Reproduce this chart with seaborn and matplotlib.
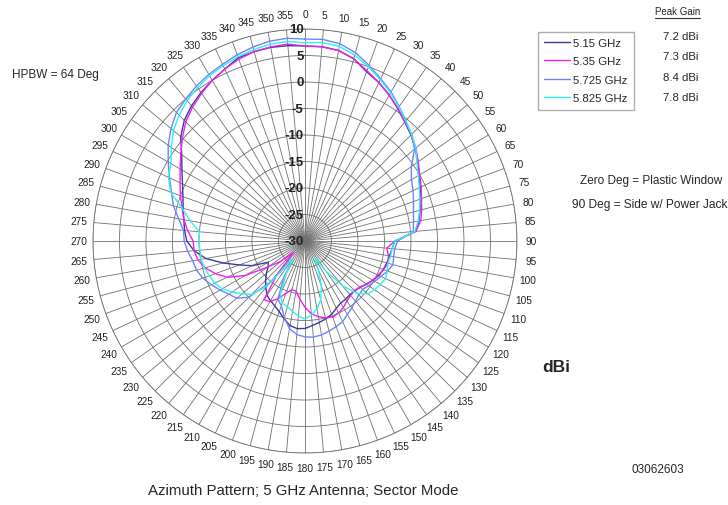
import numpy as np
import pandas as pd
import seaborn as sns
import matplotlib.pyplot as plt
from matplotlib.lines import Line2D
from matplotlib.transforms import offset_copy

# azimuth angles, 5 degree steps
angles = list(range(0, 360, 5))

gain_515 = [6.8, 6.8, 6.5, 5.6, 4.0, 3.0, 1.8, 0.5, -0.7, -1.7, -2.8, -4.0,
            -5.2, -6.0, -6.8, -7.5, -8.2, -9.0, -13.0, -13.5, -13.8, -14.0, -14.3, -14.6,
            -15.2, -15.8, -16.4, -16.7, -16.8, -16.6, -16.5, -16.0, -15.3, -14.8, -14.4, -14.0,
            -13.5, -13.4, -13.8, -14.8, -15.8, -16.5, -17.0, -17.5, -18.5, -19.5, -20.5, -21.5,
            -22.0, -19.0, -16.8, -14.0, -11.0, -9.0, -7.7, -7.2, -6.8, -6.2, -5.5, -4.5,
            -3.2, -1.6, 0.6, 2.2, 3.3, 4.2, 5.0, 5.8, 6.8, 7.0, 7.1, 7.0]

gain_535 = [6.8, 6.8, 6.5, 5.6, 4.2, 3.0, 1.8, 0.6, -0.6, -1.6, -2.7, -3.9,
            -5.0, -5.8, -6.6, -7.2, -7.8, -9.0, -13.0, -14.5, -14.0, -13.8, -14.2, -14.8,
            -15.2, -15.8, -16.5, -16.8, -16.6, -16.2, -15.5, -15.0, -14.7, -15.0, -15.5, -16.2,
            -17.5, -19.0, -20.4, -20.5, -19.5, -18.0, -16.8, -16.5, -22.0, -27.0, -24.0, -21.5,
            -17.0, -13.8, -12.0, -10.5, -9.5, -9.0, -8.9, -7.8, -6.8, -6.0, -5.0, -4.0,
            -2.8, -1.4, 0.2, 1.8, 3.0, 4.0, 5.0, 5.8, 6.5, 7.0, 7.2, 7.3]

gain_5725 = [8.1, 8.2, 7.8, 6.8, 5.3, 3.8, 2.5, 1.0, -0.4, -1.6, -3.0, -5.5,
             -6.8, -7.5, -8.2, -8.8, -9.2, -9.5, -12.5, -13.0, -13.0, -12.8, -13.4, -14.2,
             -14.8, -15.3, -15.8, -15.6, -15.2, -14.6, -14.0, -13.2, -12.8, -12.4, -12.0, -11.8,
             -11.9, -12.3, -13.2, -15.0, -17.0, -17.9, -22.0, -26.0, -20.0, -15.0, -13.2, -12.5,
             -11.5, -10.5, -9.5, -8.8, -8.5, -7.8, -7.2, -7.0, -5.8, -4.3, -3.2, -1.8,
             -0.2, 1.5, 3.0, 4.3, 5.0, 5.7, 6.3, 6.8, 7.4, 7.9, 8.3, 8.4]

gain_5825 = [7.4, 7.6, 7.3, 6.3, 5.0, 3.6, 2.3, 0.9, -0.4, -1.5, -2.7, -4.2,
             -5.3, -6.2, -6.9, -7.6, -8.3, -9.2, -13.0, -13.5, -13.6, -13.8, -13.5, -13.2,
             -13.6, -14.0, -14.5, -16.0, -19.0, -23.0, -26.5, -24.0, -21.0, -18.5, -17.0, -16.0,
             -15.3, -15.8, -16.5, -17.2, -17.5, -19.0, -23.0, -26.0, -19.0, -15.7, -14.5, -13.2,
             -12.0, -11.2, -10.8, -10.4, -10.1, -10.1, -10.0, -10.0, -8.0, -6.0, -3.0, -1.6,
             -0.8, 0.8, 2.4, 3.6, 4.6, 5.3, 6.0, 6.5, 7.0, 7.4, 7.7, 7.8]

freq_labels = ['5.15 GHz', '5.35 GHz', '5.725 GHz', '5.825 GHz']
peak_gain = ['7.2 dBi', '7.3 dBi', '8.4 dBi', '7.8 dBi']
colors = ['#3b3b99', '#f020f0', '#6a86ff', '#30f0f0']

rows = []
for lab, g in zip(freq_labels, [gain_515, gain_535, gain_5725, gain_5825]):
    for a, v in zip(angles + [360], g + [g[0]]):
        rows.append({'theta': np.deg2rad(a), 'gain': v, 'freq': lab})
df = pd.DataFrame(rows)

sns.set_style('white')
plt.rcParams['font.family'] = ['Liberation Sans', 'DejaVu Sans']

fig = plt.figure(figsize=(7.28, 5.06), dpi=100)
ax = fig.add_axes([0.1277, 0.1027, 0.5824, 0.838], projection='polar')
ax.set_theta_zero_location('N')
ax.set_theta_direction(-1)

sns.lineplot(data=df, x='theta', y='gain', hue='freq', palette=colors, sort=False,
             estimator=None, linewidth=1, legend=False, ax=ax)

ax.set_ylim(-30, 10)
ax.set_yticks(range(-30, 15, 5))
ax.set_yticklabels([])
ax.set_xticks(np.deg2rad(angles))
ax.set_xticklabels([str(a) for a in angles])
ax.tick_params(axis='x', pad=0, labelsize=7.3, colors='#222222')
ax.grid(True, color='#707070', linewidth=0.6)
ax.spines['polar'].set_color('#707070')
ax.spines['polar'].set_linewidth(0.6)
ax.set_xlabel('')
ax.set_ylabel('')

trans = offset_copy(ax.transData, fig=fig, x=-1, y=0, units='points')
for v in range(-30, 15, 5):
    ax.text(0, v, str(v), transform=trans, ha='right', va='center',
            fontsize=9.5, color='#222222', fontweight='bold')

handles = [Line2D([0], [0], color=c, lw=1) for c in colors]
fig.legend(handles, freq_labels, loc='upper left', bbox_to_anchor=(0.731, 0.947),
           frameon=True, fancybox=False, edgecolor='#999999', fontsize=8.2,
           handlelength=2.3, handletextpad=0.25, labelspacing=0.75, borderpad=0.55)

fig.text(0.931, 0.976, 'Peak Gain', ha='center', va='center', fontsize=7)
fig.add_artist(Line2D([0.900, 0.962], [0.962, 0.962], color='#333333', lw=0.8))
for i, p in enumerate(peak_gain):
    fig.text(0.935, 0.927 - i * 0.0405, p, ha='center', va='center', fontsize=8.2)

fig.text(0.016, 0.852, 'HPBW = 64 Deg', ha='left', va='center', fontsize=8.5)
fig.text(0.992, 0.642, 'Zero Deg = Plastic Window', ha='right', va='center', fontsize=8.5)
fig.text(0.999, 0.595, '90 Deg = Side w/ Power Jack', ha='right', va='center', fontsize=8.6)
fig.text(0.745, 0.273, 'dBi', ha='left', va='center', fontsize=12.5, fontweight='bold')
fig.text(0.903, 0.071, '03062603', ha='center', va='center', fontsize=8.5)
fig.text(0.416, 0.029, 'Azimuth Pattern; 5 GHz Antenna; Sector Mode', ha='center',
         va='center', fontsize=10.8)

fig.savefig('out.png', dpi=100)
